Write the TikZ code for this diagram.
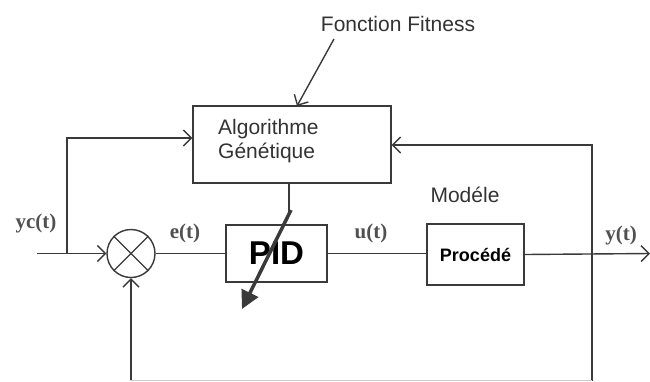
\documentclass[tikz,border=0pt]{standalone}
\usepackage{fontspec}
\setmainfont{Liberation Serif}
\setsansfont{Liberation Sans}
\usetikzlibrary{arrows.meta}
\definecolor{ln}{HTML}{3A3A3A}
\definecolor{tx}{HTML}{333333}
\definecolor{lb}{HTML}{505050}
\tikzset{
  wire/.style={draw=ln, line width=1.4pt},
  arr/.style={wire, -{Straight Barb[length=8pt,width=16pt,line width=1.4pt]}},
  blockbox/.style={draw=ln, line width=1.4pt, rectangle, inner sep=0pt},
  sftext/.style={font=\sffamily\fontsize{21}{25}\selectfont, text=tx, inner sep=0pt},
  sig/.style={font=\rmfamily\bfseries\fontsize{21}{24}\selectfont, text=lb, inner sep=0pt},
}
\begin{document}
\begin{tikzpicture}[x=1pt,y=-1pt]
\useasboundingbox (0,0) rectangle (650,381);
\fill[white] (0,0) rectangle (650,381);

% blocks
\node[blockbox, minimum width=198pt, minimum height=77pt] (ga) at (292,144.5) {};
\node[sftext, anchor=west, align=left] (gatxt) at (218,141) {Algorithme\\[-1pt]Génétique};
\node[blockbox, minimum width=101pt, minimum height=57pt,
      font=\sffamily\bfseries\fontsize{33}{36}\selectfont, text=black] (pid) at (276.5,253.5) {PID};
\node[blockbox, minimum width=97pt, minimum height=61pt,
      font=\sffamily\bfseries\fontsize{18}{20}\selectfont, text=black] (proc) at (475.5,254.5) {Procédé};
\node[draw=ln, line width=1.4pt, circle, minimum size=48pt, inner sep=0pt] (sum) at (131,253.5) {};
\draw[wire] (sum.north west) -- (sum.south east) (sum.north east) -- (sum.south west);

% labels
\node[sftext] (fit) at (398,24) {Fonction Fitness};
\node[sftext] (mod) at (465,195) {Modéle};
\node[sig] (yc) at (36,223) {yc(t)};
\node[sig] (et) at (185,233) {e(t)};
\node[sig] (ut) at (371,233) {u(t)};
\node[sig] (yt) at (621,235) {y(t)};

% coordinates
\coordinate (in) at (37,253.5);
\coordinate (jn) at (67,253.5);
\coordinate (jtop) at (67,138);
\coordinate (out) at (650,253.5);
\coordinate (fbtop) at (592,145);
\coordinate (fbbot) at (592,381);
\coordinate (bot) at (131,381);
\coordinate (gabot) at (289,212);
\coordinate (fitstart) at (334,39);
\coordinate (fitend) at (297,106);
\coordinate (thkA) at (291,210);
\coordinate (thkB) at (242,309);

% connectors
\draw[arr] (in) -- (sum.west);
\draw[arr] (jn) -- (jtop) -- (ga.west |- jtop);
\draw[wire] (sum.east) -- (pid.west);
\draw[wire] (pid.east) -- (proc.west |- pid.east);
\draw[arr] (proc.east) -- (out);
\draw[arr] (fbbot) -- (fbtop) -- (ga.east |- fbtop);
\draw[arr] (bot) -- (sum.south);
\draw[draw=ln!25, line width=1pt] (130,380) -- (592,380);
\draw[wire] (ga.south -| gabot) -- (gabot);
\draw[arr] (fitstart) -- (fitend);
\draw[draw=ln, line width=3.5pt, -{Triangle[length=18pt,width=18pt]}] (thkA) -- (thkB);
\end{tikzpicture}
\end{document}
